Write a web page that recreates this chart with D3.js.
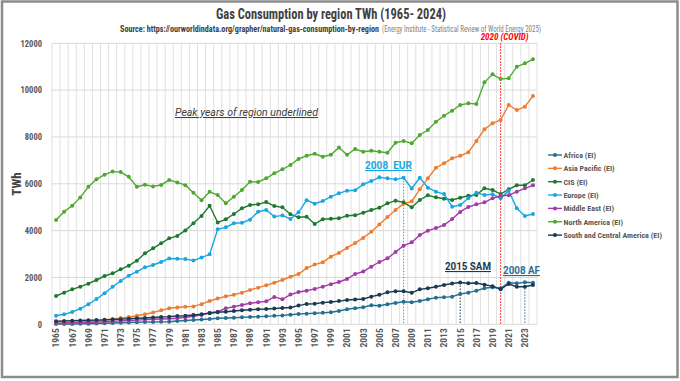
<!DOCTYPE html>
<html><head><meta charset="utf-8">
<script src="https://cdn.jsdelivr.net/npm/d3@7/dist/d3.min.js"></script>
<style>body{margin:0;background:#fff}svg{display:block}</style>
</head><body>
<svg id="chart" width="680" height="381"></svg>
<script>
const years = [1965,1966,1967,1968,1969,1970,1971,1972,1973,1974,1975,1976,1977,1978,1979,1980,1981,1982,1983,1984,1985,1986,1987,1988,1989,1990,1991,1992,1993,1994,1995,1996,1997,1998,1999,2000,2001,2002,2003,2004,2005,2006,2007,2008,2009,2010,2011,2012,2013,2014,2015,2016,2017,2018,2019,2020,2021,2022,2023,2024];
const xTickLabels = [1965,1967,1969,1971,1973,1975,1977,1979,1981,1983,1985,1987,1989,1991,1993,1995,1997,1999,2001,2003,2005,2007,2009,2011,2013,2015,2017,2019,2021,2023];
const yTicks = [0,2000,4000,6000,8000,10000,12000];

const africa = [10,12,15,20,25,35,45,55,65,75, 85,95,100,105,112,141,160,184,205,226, 256,270,282,297,312,326,340,360,380,410, 440,455,470,490,512,568,640,683,726,811, 794,854,910,960,939,995,1068,1137,1152,1180, 1294,1350,1435,1537,1580,1537,1777,1750,1793,1777];
const asiaPacific = [50,60,75,95,120,150,185,225,265,310, 365,430,505,595,685,720,752,765,860,995, 1100,1195,1260,1350,1465,1563,1665,1776,1892,2030, 2148,2400,2550,2650,2890,3050,3260,3470,3690,3950, 4260,4580,4880,5150,5250,5765,6234,6687,6875,7088, 7199,7344,7827,8327,8583,8724,9364,9150,9293,9749];
const cis = [1208,1350,1494,1606,1734,1892,2062,2178,2348,2503, 2716,3032,3245,3459,3672,3775,4010,4313,4630,5064, 4350,4484,4710,4953,5094,5124,5222,5051,4996,4700, 4569,4595,4283,4484,4510,4526,4637,4654,4765,4881, 4979,5167,5278,5209,4996,5308,5508,5423,5363,5308, 5406,5491,5521,5807,5735,5564,5765,5935,5935,6162];
const europe = [367,427,525,666,853,1080,1323,1606,1849,2075, 2246,2433,2532,2660,2810,2800,2785,2725,2850,2989, 4057,4142,4313,4338,4470,4808,4881,4600,4650,4500, 4780,5300,5150,5265,5449,5594,5705,5722,5978,6119, 6277,6234,6191,6260,5800,6260,5833,5662,5564,5022, 5094,5380,5620,5521,5551,5380,5705,4953,4624,4710];
const middleEast = [40,48,55,65,78,92,108,125,145,165, 180,200,215,225,240,260,300,345,400,497, 538,683,752,824,897,939,980,1170,1068,1270, 1380,1435,1510,1606,1715,1806,1934,2148,2250,2460, 2660,2818,3085,3356,3500,3813,3997,4110,4240,4496, 4800,5010,5124,5209,5380,5491,5508,5662,5807,5935];
const northAmerica = [4454,4810,5066,5420,5876,6190,6390,6520,6500,6300, 5875,5960,5890,5950,6160,6060,5940,5620,5300,5660, 5520,5170,5450,5735,6090,6077,6234,6447,6618,6802, 7060,7200,7280,7157,7240,7550,7240,7485,7370,7413, 7370,7327,7754,7827,7728,8083,8297,8651,8907,9121, 9364,9436,9407,10333,10675,10474,10503,11000,11145,11316];
const southCentralAmerica = [130,140,150,160,170,180,190,205,220,235, 256,270,290,310,326,354,368,397,427,470, 512,538,568,600,624,640,653,675,696,718, 800,870,880,925,950,990,1038,1060,1080,1179, 1260,1366,1410,1410,1350,1494,1537,1606,1678,1740, 1785,1750,1763,1690,1630,1494,1720,1606,1606,1678];

const seriesNames = ["Africa (EI)","Asia Pacific (EI)","CIS (EI)","Europe (EI)","Middle East (EI)","North America (EI)","South and Central America (EI)"];
const seriesColors = ["#23718f","#ed7d31","#1e7a30","#1aa7df","#a33aa8","#4fa92f","#183a52"];
const seriesValues = [africa, asiaPacific, cis, europe, middleEast, northAmerica, southCentralAmerica];

const NARROW = "'Liberation Sans Narrow','Arial Narrow','Roboto Condensed',Roboto,sans-serif";
const SANS = "Roboto,'Liberation Sans',sans-serif";

const svg = d3.select("#chart");
svg.append("rect").attr("x",0).attr("y",0).attr("width",680).attr("height",381).attr("fill","#fff");
svg.append("rect").attr("x",2).attr("y",1.5).attr("width",675.5).attr("height",375.5)
  .attr("fill","none").attr("stroke","#8c8c8c").attr("stroke-width",2.5);

const plot = {left:52, right:537, top:43.3, bottom:324.3};
const x = d3.scaleBand().domain(years).range([plot.left, plot.right]).padding(0);
const bw = x.bandwidth();
const xc = yr => x(yr) + bw/2;
const y = d3.scaleLinear().domain([0,12000]).range([plot.bottom, plot.top]);

// gridlines
const g = svg.append("g");
const bounds = years.map(yr => x(yr)).concat([plot.right]);
g.selectAll("line.v").data(bounds).join("line").attr("class","v")
  .attr("x1",d=>d).attr("x2",d=>d).attr("y1",plot.top).attr("y2",plot.bottom)
  .attr("stroke","#e0e0e0").attr("stroke-width",1);
g.selectAll("line.h").data(yTicks).join("line").attr("class","h")
  .attr("x1",plot.left).attr("x2",plot.right).attr("y1",d=>y(d)).attr("y2",d=>y(d))
  .attr("stroke","#d9d9d9").attr("stroke-width",1);

// y axis
const yAxis = svg.append("g").attr("transform",`translate(${plot.left-7},0)`)
  .call(d3.axisLeft(y).tickValues(yTicks).tickSize(0).tickFormat(d3.format("d")));
yAxis.select(".domain").remove();
yAxis.selectAll("text").attr("font-family",NARROW).attr("font-size",8.5).attr("font-weight","bold").attr("fill","#595959");

// x axis
const xAxis = svg.append("g").attr("transform",`translate(0,${plot.bottom})`)
  .call(d3.axisBottom(x).tickValues(xTickLabels).tickSize(0));
xAxis.select(".domain").remove();
xAxis.selectAll("text").attr("font-family",NARROW).attr("font-size",9.5).attr("font-weight","bold").attr("fill","#595959")
  .attr("text-anchor","end").attr("dy","0.35em").attr("transform","translate(0,4) rotate(-90)").attr("x",0).attr("y",0);

// covid line
svg.append("line").attr("x1",xc(2020)).attr("x2",xc(2020)).attr("y1",plot.top).attr("y2",plot.bottom)
  .attr("stroke","#ff0000").attr("stroke-width",1).attr("stroke-dasharray","1.5,1.5");
svg.append("text").attr("x",xc(2020)+4).attr("y",40).attr("text-anchor","middle")
  .attr("font-family",NARROW).attr("font-size",9).attr("font-weight","bold").attr("font-style","italic")
  .attr("fill","#ff0000").text("2020 (COVID)");

// peak dotted lines
function peakLine(yr, vals, color){
  const i = years.indexOf(yr);
  svg.append("line").attr("x1",xc(yr)).attr("x2",xc(yr)).attr("y1",y(vals[i])).attr("y2",plot.bottom)
    .attr("stroke",color).attr("stroke-width",1).attr("stroke-dasharray","1.5,1.5");
}
peakLine(2008, europe, seriesColors[3]);
peakLine(2015, southCentralAmerica, seriesColors[6]);
peakLine(2023, africa, seriesColors[0]);

// series
const line = d3.line().x((d,i)=>xc(years[i])).y(d=>y(d));
seriesValues.forEach((vals,k)=>{
  const s = svg.append("g");
  s.append("path").datum(vals).attr("d",line).attr("fill","none")
    .attr("stroke",seriesColors[k]).attr("stroke-width",1.4);
  s.selectAll("circle").data(vals).join("circle")
    .attr("cx",(d,i)=>xc(years[i])).attr("cy",d=>y(d)).attr("r",2)
    .attr("fill",seriesColors[k]);
});

// titles
svg.append("text").attr("x",331).attr("y",19).attr("text-anchor","middle")
  .attr("font-family",NARROW).attr("font-size",14).attr("font-weight","bold").attr("fill","#404040")
  .attr("textLength",230).attr("lengthAdjust","spacingAndGlyphs")
  .text("Gas Consumption by region TWh (1965- 2024)");
svg.append("text").attr("x",120).attr("y",31.5)
  .attr("font-family",NARROW).attr("font-size",8.5).attr("font-weight","bold").attr("fill","#404040")
  .attr("textLength",259).attr("lengthAdjust","spacingAndGlyphs")
  .text("Source: https://ourworldindata.org/grapher/natural-gas-consumption-by-region");
svg.append("text").attr("x",382).attr("y",31.5)
  .attr("font-family",NARROW).attr("font-size",8.5).attr("fill","#7f7f7f")
  .attr("textLength",159).attr("lengthAdjust","spacingAndGlyphs")
  .text("(Energy Institute - Statistical Review of World Energy 2025)");

// y title
svg.append("text").attr("transform","translate(21,184) rotate(-90)").attr("text-anchor","middle")
  .attr("font-family",NARROW).attr("font-size",13).attr("font-weight","bold").attr("fill","#404040").text("TWh");

// annotations
svg.append("text").attr("x",175).attr("y",116).attr("font-family",SANS).attr("font-size",10.5)
  .attr("font-style","italic").attr("text-decoration","underline").attr("fill","#404040")
  .attr("textLength",143).attr("lengthAdjust","spacingAndGlyphs")
  .text("Peak years of region underlined");
function ann(txt, xx, yy, w, color){
  svg.append("text").attr("x",xx).attr("y",yy).attr("font-family",SANS).attr("font-size",11)
    .attr("font-weight","bold").attr("text-decoration","underline").attr("fill",color)
    .attr("textLength",w).attr("lengthAdjust","spacingAndGlyphs").text(txt);
}
ann("2008\u00A0 EUR", 365, 169, 47, seriesColors[3]);
ann("2015 SAM", 445, 270, 46, seriesColors[6]);
ann("2008 AF", 503, 274, 37, "#2a6f92");

// legend
const lg = svg.append("g");
seriesNames.forEach((n,k)=>{
  const cy = 155 + k*13.35;
  lg.append("line").attr("x1",548).attr("x2",562).attr("y1",cy).attr("y2",cy)
    .attr("stroke",seriesColors[k]).attr("stroke-width",1.4);
  lg.append("circle").attr("cx",555).attr("cy",cy).attr("r",2).attr("fill",seriesColors[k]);
  lg.append("text").attr("x",563.5).attr("y",cy+3).attr("font-family",NARROW).attr("font-size",8)
    .attr("font-weight","bold").attr("fill","#595959").text(n);
});
</script>
</body></html>
